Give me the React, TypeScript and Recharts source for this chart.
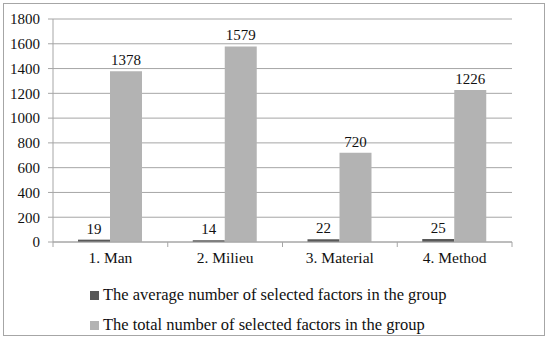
import React from "react";
import { BarChart, Bar, XAxis, YAxis, CartesianGrid, LabelList } from "recharts";

const categories = ["1. Man", "2. Milieu", "3. Material", "4. Method"];
const averageSelected = [19, 14, 22, 25];
const totalSelected = [1378, 1579, 720, 1226];
const yTicks = [0, 200, 400, 600, 800, 1000, 1200, 1400, 1600, 1800];
const seriesNames = [
  "The average number of selected factors in the group",
  "The total number of selected factors in the group",
];

const data = categories.map((name, i) => ({
  name,
  average: averageSelected[i],
  total: totalSelected[i],
}));

const FONT = "Liberation Serif, Times New Roman, DejaVu Serif, Liberation Sans, sans-serif";
const DARK = "#595959";
const LIGHT = "#b3b3b3";
const GRID = "#a6a6a6";

const W = 550;
const H = 270;
const margin = { top: 19, right: 38, left: 0, bottom: 0 };
const yWidth = 53;
const step = (W - margin.left - margin.right - yWidth) / categories.length;

const XTick = (props: any) => {
  const { x, y, payload, index } = props;
  const left = x - step / 2;
  return (
    <g>
      <line x1={left} x2={left} y1={y - 8} y2={y - 3} stroke={GRID} />
      {index === categories.length - 1 && (
        <line x1={x + step / 2} x2={x + step / 2} y1={y - 8} y2={y - 3} stroke={GRID} />
      )}
      <text x={x} y={y + 13} textAnchor="middle" fontSize={15.5} style={{ fontFamily: FONT }} fill="#111">
        {payload.value}
      </text>
    </g>
  );
};

export default function App() {
  return (
    <div style={{ position: "absolute", left: 0, top: 0, width: 550, height: 344, background: "#fff", fontFamily: FONT }}>
      <div
        style={{
          position: "absolute",
          left: 3,
          top: 3,
          width: 540,
          height: 331,
          border: "1px solid #a6a6a6",
        }}
      />
      <div style={{ position: "absolute", left: 0, top: 0 }}>
        <BarChart width={W} height={H} data={data} margin={margin} barGap={0} barCategoryGap={25} style={{ fontFamily: FONT }}>
          <CartesianGrid vertical={false} stroke={GRID} />
          <XAxis
            dataKey="name"
            height={28}
            axisLine={{ stroke: GRID }}
            tickLine={false}
            tick={<XTick />}
            interval={0}
          />
          <YAxis
            width={yWidth}
            domain={[0, 1800]}
            ticks={yTicks}
            interval={0}
            axisLine={{ stroke: GRID }}
            tickLine={{ stroke: GRID }}
            tickSize={5}
            tickMargin={8}
            tick={{ fontSize: 15, fill: "#111", style: { fontFamily: FONT } }}
          />
          <Bar dataKey="average" fill={DARK} isAnimationActive={false}>
            <LabelList dataKey="average" position="top" offset={6} fontSize={15} fill="#111" style={{ fontFamily: FONT }} />
          </Bar>
          <Bar dataKey="total" fill={LIGHT} isAnimationActive={false}>
            <LabelList dataKey="total" position="top" offset={6} fontSize={15} fill="#111" style={{ fontFamily: FONT }} />
          </Bar>
        </BarChart>
      </div>
      {seriesNames.map((label, i) => (
        <div
          key={label}
          style={{
            position: "absolute",
            left: 90,
            top: 285 + i * 30,
            height: 20,
            display: "flex",
            alignItems: "center",
            fontSize: 16.5,
            color: "#111",
            whiteSpace: "nowrap",
          }}
        >
          <span style={{ width: 9, height: 9, background: i === 0 ? DARK : LIGHT, marginRight: 4 }} />
          {label}
        </div>
      ))}
    </div>
  );
}
